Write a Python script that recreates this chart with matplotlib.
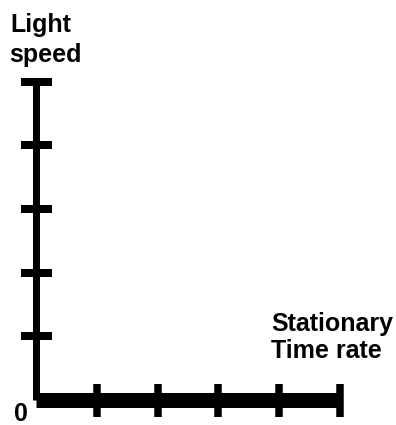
import matplotlib
matplotlib.use("Agg")
import matplotlib.pyplot as plt

# ── Données ────────────────────────────────────────────────────────────────────
x_ticks = [1, 2, 3, 4, 5]          # graduations de l'axe "Stationary Time rate"
y_ticks = [1, 2, 3, 4, 5]          # graduations de l'axe "Light speed"
y_label = ["Light", "speed"]
x_label = ["Stationary", "Time rate"]
origin_label = "0"

W, H = 396, 425
FONT = dict(family="Liberation Sans", fontweight="bold", fontsize=18, color="black")


def px(x, y):
    """pixels (origine en haut à gauche) -> fraction de figure"""
    return x / W, 1 - y / H


fig = plt.figure(figsize=(W / 100, H / 100), dpi=100, facecolor="white")

# axe : x=0 -> px 36, x=5 -> px 340 ; y=0 -> px 400, y=5 -> px 81.5
l, b = px(36, 400)
r, t = px(340, 81.5)
ax = fig.add_axes([l, b, r - l, t - b])
ax.set_xlim(0, 5)
ax.set_ylim(0, 5)
ax.set_facecolor("none")

for side in ("top", "right"):
    ax.spines[side].set_visible(False)
ax.spines["bottom"].set_linewidth(15 * 0.72)
ax.spines["left"].set_linewidth(7 * 0.72)
ax.spines["bottom"].set_capstyle("butt")
ax.spines["left"].set_capstyle("butt")
ax.spines["bottom"].set_zorder(3)

ax.set_xticks(x_ticks)
ax.set_yticks(y_ticks)
ax.set_xticklabels([])
ax.set_yticklabels([])
ax.tick_params(axis="x", direction="inout", length=33 * 0.72, width=7.5 * 0.72)
ax.tick_params(axis="y", direction="inout", length=31 * 0.72, width=8 * 0.72)

# ── Textes ─────────────────────────────────────────────────────────────────────
fig.text(*px(10, 32), y_label[0], ha="left", va="baseline", **FONT)
fig.text(*px(9, 62), y_label[1], ha="left", va="baseline", **FONT)
fig.text(*px(271, 331), x_label[0], ha="left", va="baseline", **FONT)
fig.text(*px(271, 358), x_label[1], ha="left", va="baseline", **FONT)
fig.text(*px(14, 421), origin_label, ha="left", va="baseline", **FONT)

fig.savefig("out.png", dpi=100, facecolor="white")
